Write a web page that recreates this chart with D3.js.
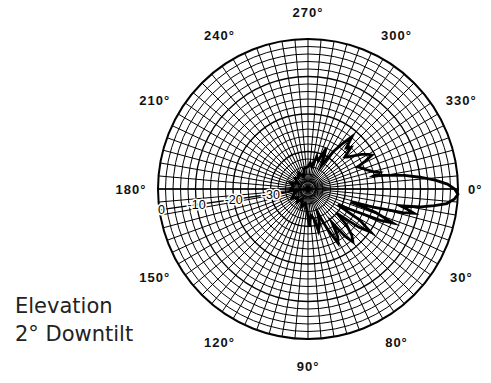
<!DOCTYPE html>
<html>
<head>
<meta charset="utf-8">
<script src="https://cdn.jsdelivr.net/npm/d3@7"></script>
<style>
  html, body { margin: 0; padding: 0; background: #fff; }
  svg { display: block; }
</style>
</head>
<body>
<svg id="chart" width="491" height="383"></svg>
<script>
// ---- data ----
const angleTicks = [0, 30, 60, 90, 120, 150, 180, 210, 240, 270, 300, 330];
const angleLabels = ["0°", "30°", "80°", "90°", "120°", "150°", "180°", "210°", "240°", "270°", "300°", "330°"];
const dbTicks = [0, -10, -20, -30];
const dbLabels = ["0", "-10", "-20", "-30"];
const titleLines = ["Elevation", "2° Downtilt"];

// elevation pattern: angle (deg, clockwise from 0° at right) and relative level (dB)
const patternAngles = [-90, -85, -80, -75, -70, -66, -63, -60, -56, -53, -50, -47, -44, -41, -39, -36, -33, -30, -28, -26, -24, -21, -18, -15, -13, -11.5, -10, -8, -6, -4, -2, 0, 2, 4, 6, 7.5, 9, 10.3, 11.5, 12.9, 14, 15.5, 17, 19, 21.8, 23.5, 25.5, 28, 31, 34.5, 37, 40, 43, 46.5, 49.7, 52, 54.5, 58, 61, 64, 68, 72, 76, 79, 84, 88, 92, 100, 110, 120, 130, 140, 150, 160, 170, 180, 190, 200, 210, 220, 230, 240, 250, 260];
const patternDb = [-34, -33, -34, -31, -32, -28, -31, -33, -28, -25, -21.7, -25, -24, -27, -26.5, -25, -23, -21.5, -20.7, -23, -25.5, -24.5, -23.5, -22, -20.4, -22, -19, -14, -10, -6, -2.8, -0.9, 0, -0.9, -2.8, -6, -9.5, -15, -13, -11, -14, -22, -28, -21, -15.6, -19, -27, -31, -24, -19.7, -23, -30, -26, -23, -21.5, -24, -29, -25, -23.5, -28, -33, -30, -28.5, -32, -33, -30, -34, -36, -35, -37, -35.5, -36.5, -35, -36, -37, -35.5, -36, -35, -37, -35.5, -36, -35, -36.5, -34.5];

// ---- layout ----
const cx = 308, cy = 189, R = 150;
const svg = d3.select("#chart");
const g = svg.append("g").attr("transform", `translate(${cx},${cy})`);

const r = d3.scaleLinear().domain([-40, 0]).range([0, R]).clamp(true);
const toRad = a => (a + 90) * Math.PI / 180; // d3 radial angle: 0 = up, clockwise
const px = (a, rad) => rad * Math.sin(toRad(a));
const py = (a, rad) => -rad * Math.cos(toRad(a));

// rings every 2 dB
const rings = d3.range(-38, 0, 2);
g.append("g").selectAll("circle").data(rings).join("circle")
  .attr("r", d => r(d))
  .attr("fill", "none")
  .attr("stroke", "#000")
  .attr("stroke-width", d => d % 10 === 0 ? 1.3 : 1.0);

// spokes every 5 deg
const spokes = d3.range(0, 360, 5);
g.append("g").selectAll("line").data(spokes).join("line")
  .attr("x1", d => px(d, d % 10 === 0 ? 0 : r(-38)))
  .attr("y1", d => py(d, d % 10 === 0 ? 0 : r(-38)))
  .attr("x2", d => px(d, R))
  .attr("y2", d => py(d, R))
  .attr("stroke", "#000")
  .attr("stroke-width", 1.0);

// outer circle
g.append("circle").attr("r", R).attr("fill", "none").attr("stroke", "#000").attr("stroke-width", 2);

// horizontal diameter
g.append("line")
  .attr("x1", px(180, R)).attr("y1", py(180, R))
  .attr("x2", px(0, R)).attr("y2", py(0, R))
  .attr("stroke", "#000").attr("stroke-width", 1.3);

// scale axis line
const scaleAngle = 172;
g.append("line")
  .attr("x1", 0).attr("y1", 0)
  .attr("x2", px(scaleAngle, R)).attr("y2", py(scaleAngle, R))
  .attr("stroke", "#000").attr("stroke-width", 1.4);

// pattern
const pts = patternAngles.map((a, i) => ({ a, db: patternDb[i] }));
const line = d3.lineRadial()
  .angle(d => toRad(d.a))
  .radius(d => r(d.db))
  .curve(d3.curveLinearClosed);
g.append("path")
  .attr("d", line(pts))
  .attr("fill", "none")
  .attr("stroke", "#000")
  .attr("stroke-width", 2.8)
  .attr("stroke-linejoin", "miter")
  .attr("stroke-miterlimit", 6);

// scale labels (with a thin white halo so they stay readable on the grid)
g.append("g").selectAll("text").data(dbTicks).join("text")
  .attr("x", (d, i) => px(scaleAngle, r(d) - (i === 0 ? 2 : 0)))
  .attr("y", d => py(scaleAngle, r(d)))
  .attr("dy", "0.35em")
  .attr("text-anchor", "middle")
  .attr("font-family", "Liberation Sans, Arial, sans-serif")
  .attr("font-size", 12.5)
  .attr("fill", "#000")
  .attr("stroke", "#fff")
  .attr("stroke-width", 3)
  .attr("stroke-linejoin", "round")
  .attr("paint-order", "stroke fill")
  .text((d, i) => dbLabels[i]);

// angle labels
const labelR = 177;
g.append("g").selectAll("text").data(angleTicks).join("text")
  .attr("x", d => d === 0 ? px(d, R + 10) : px(d, labelR))
  .attr("y", d => d === 0 ? py(d, R + 10) : py(d, labelR))
  .attr("dy", "0.35em")
  .attr("text-anchor", d => d === 0 ? "start" : "middle")
  .attr("font-family", "Liberation Sans, Arial, sans-serif")
  .attr("font-weight", "bold")
  .attr("font-size", 13)
  .attr("letter-spacing", 1)
  .attr("fill", "#111")
  .text((d, i) => angleLabels[i]);

// title text
svg.append("g").selectAll("text").data(titleLines).join("text")
  .attr("x", 15)
  .attr("y", (d, i) => 313 + i * 28)
  .attr("font-family", "DejaVu Sans, sans-serif")
  .attr("font-size", 21)
  .attr("fill", "#222")
  .text(d => d);
</script>
</body>
</html>
